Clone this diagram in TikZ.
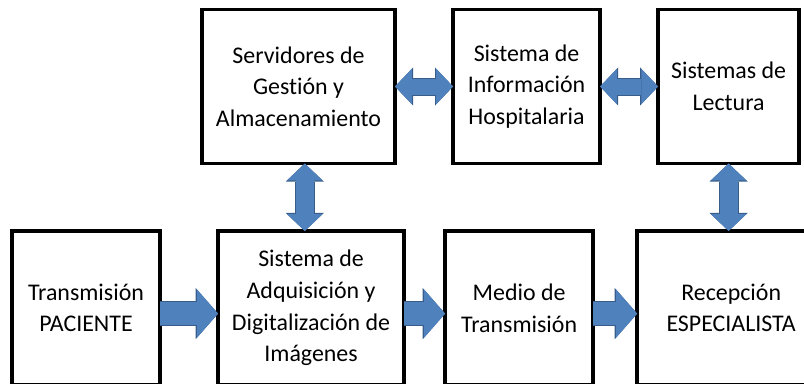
\documentclass[tikz,border=0pt]{standalone}
\usepackage{fontspec}
\setmainfont[Ligatures=NoCommon]{Carlito}
\usetikzlibrary{positioning,arrows.meta,calc}
\definecolor{arrowfill}{HTML}{4F81BD}
\definecolor{arrowline}{HTML}{385D8A}

\begin{document}
\begin{tikzpicture}[x=0.025cm, y=-0.025cm, node distance=1.45cm,
    main/.style = {draw, line width=2.4pt, outer sep=0pt, minimum height=3.85cm, align=center,
                   font=\fontsize{17}{22.5}\selectfont},
    single/.style = {draw=arrowfill, line width=0.575cm, -{Triangle[length=0.525cm, width=1.2cm, line width=0pt]},
                     preaction={draw=arrowline, line width=0.625cm, -{Triangle[length=0.56cm, width=1.28cm, line width=0pt]}}},
    both/.style = {draw=arrowfill, line width=#1, {Triangle[length=0.42cm, width=0.88cm, line width=0pt]}-{Triangle[length=0.42cm, width=0.88cm, line width=0pt]},
                   preaction={draw=arrowline, line width=#1+0.05cm, {Triangle[length=0.45cm, width=0.95cm, line width=0pt]}-{Triangle[length=0.45cm, width=0.95cm, line width=0pt]}}}]
      \useasboundingbox (0,0) rectangle (804,383);
      \clip (0,0) rectangle (804,383);

      % top row
      \node[main, minimum width=4.825cm] (serv) at (298.5,86.5) {Servidores de\\Gestión y\\Almacenamiento};
      \node[main, minimum width=3.675cm] (sih) [right=of serv] {Sistema de\\Información\\Hospitalaria};
      \node[main, minimum width=3.525cm] (lect) [right=of sih] {Sistemas de\\Lectura};

      % bottom row
      \node[main, minimum width=3.7cm] (trans) at (86,308) {Transmisión\\PACIENTE};
      \node[main, minimum width=4.65cm] (adq) [right=of trans] {Sistema de\\Adquisición y\\Digitalización de\\Imágenes};
      \node[main, minimum width=3.7cm] (medio) [right=1.025cm of adq] {Medio de\\Transmisión};
      \node[main, minimum width=4.7cm] (recep) [right=1.1cm of medio] {Recepción\\ESPECIALISTA};

      \coordinate (m1) at ($(serv.south)!.5!(adq.north)$);

      \draw[both=0.4cm] (serv) -- (sih);
      \draw[both=0.4cm] (sih) -- (lect);
      \draw[both=0.45cm] (serv.south -| m1) -- (adq.north -| m1);
      \draw[both=0.45cm] (lect.south) -- (lect.south |- recep.north);
      \draw[single] ([yshift=-0.14cm]trans.east) -- ([yshift=-0.14cm]adq.west);
      \draw[single] ([yshift=-0.14cm]adq.east) -- ([yshift=-0.14cm]medio.west);
      \draw[single] ([yshift=-0.14cm]medio.east) -- ([yshift=-0.14cm]recep.west);
    \end{tikzpicture}
\end{document}
